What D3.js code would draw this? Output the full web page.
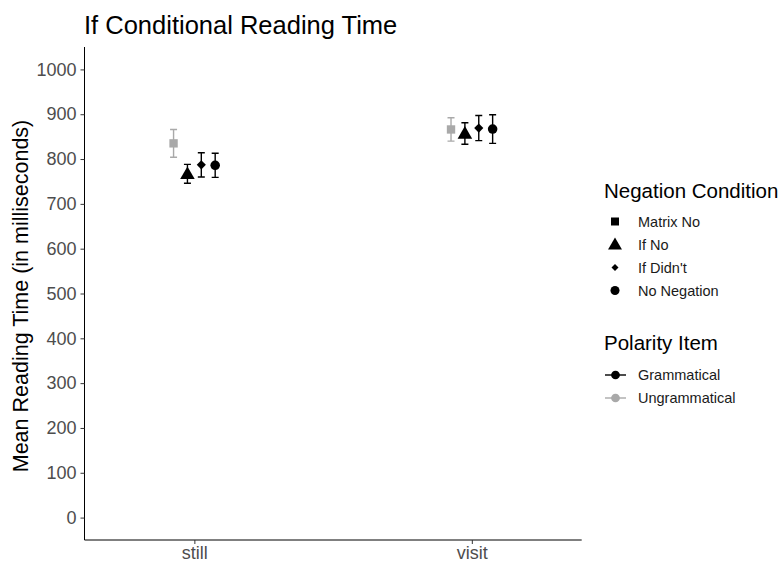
<!DOCTYPE html>
<html><head><meta charset="utf-8">
<script src="https://cdn.jsdelivr.net/npm/d3@7"></script>
<style>body{margin:0;background:#fff}svg{display:block}text{font-family:"Liberation Sans",Arial,sans-serif}</style>
</head><body><svg id="c" width="782" height="562"></svg>
<script>
const categories = ["still", "visit"];
const conditions = ["Matrix No", "If No", "If Didn't", "No Negation"];
const polarity = ["Ungrammatical", "Grammatical", "Grammatical", "Grammatical"];
const stillMeans = [835, 767, 787, 786];
const stillErr = [31, 21, 27, 27];
const visitMeans = [866, 857, 869, 867];
const visitErr = [26, 24, 28, 32];
const yTicks = [0, 100, 200, 300, 400, 500, 600, 700, 800, 900, 1000];
const polarityLabels = ["Grammatical", "Ungrammatical"];

(function () {
const svg = d3.select("#c");
const pLeft = 84.5, pRight = 581.7, pTop = 47, pBottom = 540;
const x = d3.scaleLinear().domain([0.604, 2.396]).range([pLeft, pRight]);
const y = d3.scaleLinear().domain([-50, 1050]).range([pBottom, pTop]);
const colorFor = p => p === "Grammatical" ? "#000000" : "#A9A9A9";
const diamond = { draw(ctx, size) { const r = Math.sqrt(size) / 2 * 1.2; ctx.moveTo(0, -r); ctx.lineTo(r, 0); ctx.lineTo(0, r); ctx.lineTo(-r, 0); ctx.closePath(); } };
const symbols = [d3.symbolSquare, d3.symbolTriangle, diamond, d3.symbolCircle];
const sizes = [70, 92, 58, 72];
const dodge = [-0.075, -0.025, 0.025, 0.075];

const rows = [];
categories.forEach((c, ci) => {
  const m = ci === 0 ? stillMeans : visitMeans;
  const e = ci === 0 ? stillErr : visitErr;
  conditions.forEach((cond, k) => rows.push({ xi: ci + 1 + dodge[k], mean: m[k], err: e[k], k, pol: polarity[k] }));
});

const yAxis = d3.axisLeft(y).tickValues(yTicks).tickFormat(d3.format("d")).tickSize(4).tickPadding(4);
const gy = svg.append("g").attr("transform", `translate(${pLeft},0)`).call(yAxis);
gy.select(".domain").attr("d", `M0,${pTop}V${pBottom}`).attr("stroke", "#000").attr("stroke-width", 1);
gy.selectAll(".tick line").attr("stroke", "#333");
gy.selectAll(".tick text").attr("fill", "#4D4D4D").style("font-size", "18px").style("font-family", "Liberation Sans, Arial, sans-serif");

const xAxis = d3.axisBottom(d3.scaleOrdinal().domain(categories).range([x(1), x(2)])).tickSize(4).tickPadding(2);
const gx = svg.append("g").attr("transform", `translate(0,${pBottom})`).call(xAxis);
gx.select(".domain").attr("d", `M${pLeft},0H${pRight}`).attr("stroke", "#000");
gx.selectAll(".tick line").attr("stroke", "#333");
gx.selectAll(".tick text").attr("fill", "#4D4D4D").style("font-size", "18px").style("font-family", "Liberation Sans, Arial, sans-serif");

const cap = 3.5;
const g = svg.append("g");
rows.forEach(r => {
  const cx = x(r.xi), col = colorFor(r.pol);
  const y1 = y(r.mean + r.err), y2 = y(r.mean - r.err);
  g.append("path").attr("d", `M${cx - cap},${y1}H${cx + cap}M${cx},${y1}V${y2}M${cx - cap},${y2}H${cx + cap}`)
    .attr("stroke", col).attr("stroke-width", 1.4).attr("fill", "none");
  g.append("path").attr("d", d3.symbol().type(symbols[r.k]).size(sizes[r.k])())
    .attr("transform", `translate(${cx},${y(r.mean) + (r.k === 1 ? 1 : 0)})`).attr("fill", col);
});

svg.append("text").attr("x", 84).attr("y", 33.5).text("If Conditional Reading Time")
  .style("font-size", "25.5px").attr("fill", "#000");
svg.append("text").attr("transform", `translate(28,296) rotate(-90)`).attr("text-anchor", "middle")
  .text("Mean Reading Time (in milliseconds)").style("font-size", "21.5px").attr("fill", "#000");

svg.append("text").attr("x", 604).attr("y", 198).text("Negation Condition").style("font-size", "20.5px").attr("fill", "#000");
const ly = [221.5, 244.5, 267.5, 290.5];
const lsizes = [64, 84, 34, 64];
conditions.forEach((c, k) => {
  svg.append("path").attr("d", d3.symbol().type(symbols[k]).size(lsizes[k])())
    .attr("transform", `translate(615,${ly[k] + (k === 1 ? 1 : 0)})`).attr("fill", "#000");
  svg.append("text").attr("x", 638).attr("y", ly[k] + 5).text(c).style("font-size", "14.5px").attr("fill", "#1A1A1A");
});
svg.append("text").attr("x", 604).attr("y", 350).text("Polarity Item").style("font-size", "20.5px").attr("fill", "#000");
const py = [375, 398];
polarityLabels.forEach((p, i) => {
  const col = colorFor(p);
  svg.append("path").attr("d", `M605,${py[i]}H626`).attr("stroke", col).attr("stroke-width", 1.4);
  svg.append("path").attr("d", d3.symbol().type(d3.symbolCircle).size(60)()).attr("transform", `translate(615.5,${py[i]})`).attr("fill", col);
  svg.append("text").attr("x", 638).attr("y", py[i] + 5).text(p).style("font-size", "14.5px").attr("fill", "#1A1A1A");
});
})();
</script></body></html>
